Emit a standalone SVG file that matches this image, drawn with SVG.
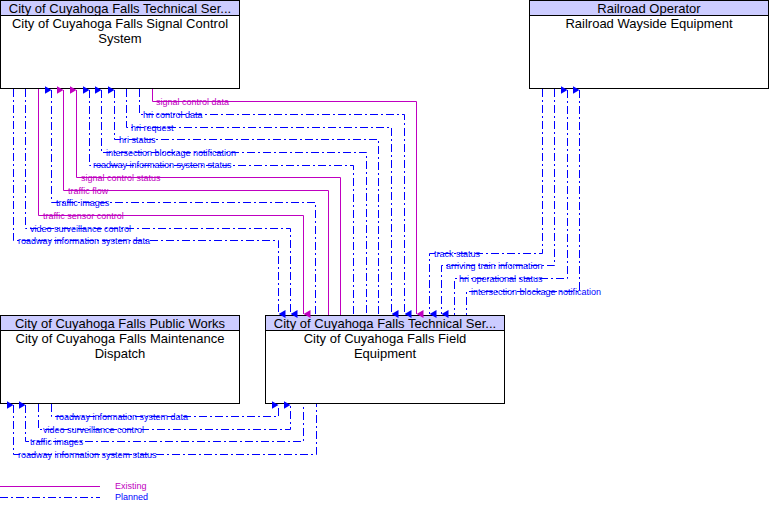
<svg xmlns="http://www.w3.org/2000/svg" width="776" height="509" viewBox="0 0 776 509">
<style>
.box{fill:#fff;stroke:#000;stroke-width:1}
.hdr{fill:#ccccff;stroke:#000;stroke-width:1}
.t{font-family:"Liberation Sans",Arial,sans-serif;font-size:13px;fill:#000}
.l{font-family:"Liberation Sans",Arial,sans-serif;font-size:9px}
.p{fill:none;stroke:#0000ff;stroke-width:1;stroke-dasharray:8,3,2,3}
.e{fill:none;stroke:#c000c0;stroke-width:1}
.lp{fill:#0000ff}.le{fill:#c000c0}
</style>
<defs>
<marker id="ab" markerWidth="8" markerHeight="7" refX="4" refY="7" orient="auto-start-reverse" markerUnits="userSpaceOnUse" viewBox="0 0 8 7"><path d="M0,0 L8,0 L4,7 Z" fill="#0000ff"/></marker>
<marker id="am" markerWidth="8" markerHeight="7" refX="4" refY="7" orient="auto-start-reverse" markerUnits="userSpaceOnUse" viewBox="0 0 8 7"><path d="M0,0 L8,0 L4,7 Z" fill="#c000c0"/></marker>
</defs>
<rect width="776" height="509" fill="#fff"/>
<g id="signal"><rect class="box" x="0.5" y="0.5" width="239" height="88"/><rect class="hdr" x="0.5" y="0.5" width="239" height="15"/><text class="t" x="120" y="12.5" text-anchor="middle">City of Cuyahoga Falls Technical Ser...</text><text class="t" x="120" y="28" text-anchor="middle">City of Cuyahoga Falls Signal Control</text><text class="t" x="120" y="43" text-anchor="middle">System</text></g>
<g id="railroad"><rect class="box" x="529.5" y="0.5" width="239" height="88"/><rect class="hdr" x="529.5" y="0.5" width="239" height="15"/><text class="t" x="649" y="12.5" text-anchor="middle">Railroad Operator</text><text class="t" x="649" y="28" text-anchor="middle">Railroad Wayside Equipment</text></g>
<g id="maint"><rect class="box" x="0.5" y="315.5" width="239" height="88"/><rect class="hdr" x="0.5" y="315.5" width="239" height="15"/><text class="t" x="120" y="327.5" text-anchor="middle">City of Cuyahoga Falls Public Works</text><text class="t" x="120" y="343" text-anchor="middle">City of Cuyahoga Falls Maintenance</text><text class="t" x="120" y="358" text-anchor="middle">Dispatch</text></g>
<g id="field"><rect class="box" x="265.5" y="315.5" width="239" height="88"/><rect class="hdr" x="265.5" y="315.5" width="239" height="15"/><text class="t" x="385" y="327.5" text-anchor="middle">City of Cuyahoga Falls Technical Ser...</text><text class="t" x="385" y="343" text-anchor="middle">City of Cuyahoga Falls Field</text><text class="t" x="385" y="358" text-anchor="middle">Equipment</text></g>
<g id="connectors">
<path class="p" d="M13.5,89 V240.5 H278.5 V314" marker-end="url(#ab)"/>
<path class="p" d="M25.5,89 V228.5 H290.5 V314" marker-end="url(#ab)"/>
<path class="e" d="M38.5,89 V215.5 H303.5 V314" marker-end="url(#am)"/>
<path class="p" d="M51.5,90 V202.5 H315.5 V315" marker-start="url(#ab)"/>
<path class="e" d="M63.5,90 V190.5 H328.5 V315" marker-start="url(#am)"/>
<path class="e" d="M76.5,90 V177.5 H340.5 V315" marker-start="url(#am)"/>
<path class="p" d="M89.5,90 V165.5 H353.5 V315" marker-start="url(#ab)"/>
<path class="p" d="M101.5,90 V152.5 H366.5 V315" marker-start="url(#ab)"/>
<path class="p" d="M114.5,90 V139.5 H378.5 V315" marker-start="url(#ab)"/>
<path class="p" d="M126.5,89 V127.5 H391.5 V314" marker-end="url(#ab)"/>
<path class="p" d="M139.5,89 V114.5 H404.5 V314" marker-end="url(#ab)"/>
<path class="e" d="M152.5,89 V101.5 H416.5 V314" marker-end="url(#am)"/>
<path class="p" d="M542.5,89 V253.5 H429.5 V314" marker-end="url(#ab)"/>
<path class="p" d="M554.5,89 V265.5 H441.5 V314" marker-end="url(#ab)"/>
<path class="p" d="M567.5,90 V278.5 H454.5 V315" marker-start="url(#ab)"/>
<path class="p" d="M579.5,90 V291.5 H466.5 V315" marker-start="url(#ab)"/>
<path class="p" d="M51.5,404 V416.5 H278.5 V405" marker-end="url(#ab)"/>
<path class="p" d="M38.5,404 V429.5 H290.5 V405" marker-end="url(#ab)"/>
<path class="p" d="M25.5,405 V441.5 H303.5 V404" marker-start="url(#ab)"/>
<path class="p" d="M13.5,405 V454.5 H316.5 V404" marker-start="url(#ab)"/>
<text class="l le" x="156" y="105">signal control data</text>
<text class="l lp" x="143" y="118">hri control data</text>
<text class="l lp" x="131" y="131">hri request</text>
<text class="l lp" x="119" y="143">hri status</text>
<text class="l lp" x="106" y="156">intersection blockage notification</text>
<text class="l lp" x="93" y="168">roadway information system status</text>
<text class="l le" x="81" y="181">signal control status</text>
<text class="l le" x="68" y="194">traffic flow</text>
<text class="l lp" x="56" y="206">traffic images</text>
<text class="l le" x="43" y="219">traffic sensor control</text>
<text class="l lp" x="30" y="232">video surveillance control</text>
<text class="l lp" x="18" y="244">roadway information system data</text>
<text class="l lp" x="434" y="257">track status</text>
<text class="l lp" x="446" y="269">arriving train information</text>
<text class="l lp" x="459" y="282">hri operational status</text>
<text class="l lp" x="471" y="295">intersection blockage notification</text>
<text class="l lp" x="56" y="420">roadway information system data</text>
<text class="l lp" x="43" y="433">video surveillance control</text>
<text class="l lp" x="30" y="445">traffic images</text>
<text class="l lp" x="18" y="458">roadway information system status</text>
</g>
<g id="legend">
<line class="e" x1="0" y1="486.5" x2="100" y2="486.5"/>
<line class="p" x1="0" y1="497.5" x2="100" y2="497.5"/>
<text class="l le" x="115" y="489">Existing</text>
<text class="l lp" x="115" y="500">Planned</text>
</g>
</svg>
